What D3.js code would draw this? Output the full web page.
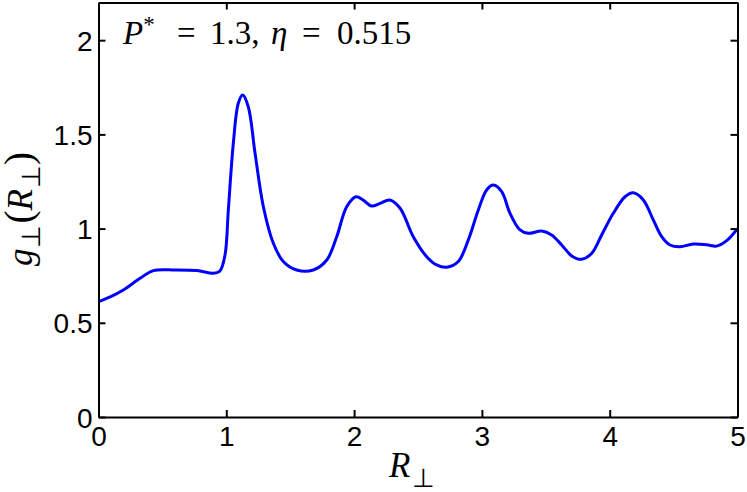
<!DOCTYPE html>
<head>
  <meta charset="utf-8">
  <script src="https://d3js.org/d3.v7.min.js"></script>
  <style>
    body { margin:0; background:#fff; }
    .tick text { font-family: "Liberation Sans", Arial, sans-serif; }
  </style>
</head>
<body>
<script>
// curve: R_perp and g_perp(R_perp)
var rVals = [0, 0.10, 0.194, 0.325, 0.43, 0.6, 0.77, 0.90, 0.95, 0.99, 1.016, 1.055, 1.094, 1.128, 1.172, 1.225, 1.29, 1.368, 1.446, 1.55, 1.68, 1.786, 1.864, 1.942, 2.015, 2.07, 2.137, 2.203, 2.28, 2.36, 2.463, 2.568, 2.646, 2.725, 2.815, 2.894, 2.972, 3.037, 3.09, 3.155, 3.22, 3.298, 3.363, 3.468, 3.546, 3.624, 3.703, 3.78, 3.86, 3.937, 4.028, 4.12, 4.185, 4.263, 4.341, 4.407, 4.472, 4.55, 4.654, 4.759, 4.837, 4.915, 5.0];
var gVals = [0.612, 0.640, 0.674, 0.736, 0.777, 0.780, 0.777, 0.763, 0.775, 0.860, 1.099, 1.453, 1.665, 1.709, 1.647, 1.40, 1.116, 0.922, 0.825, 0.780, 0.780, 0.833, 0.957, 1.116, 1.169, 1.152, 1.120, 1.134, 1.152, 1.108, 0.957, 0.851, 0.807, 0.795, 0.825, 0.94, 1.099, 1.205, 1.231, 1.196, 1.081, 0.993, 0.975, 0.987, 0.966, 0.913, 0.855, 0.837, 0.869, 0.966, 1.081, 1.169, 1.19, 1.152, 1.046, 0.957, 0.913, 0.904, 0.918, 0.914, 0.907, 0.936, 1.0];
var xTicks = [0, 1, 2, 3, 4, 5];
var yTicks = [0, 0.5, 1, 1.5, 2];

var width = 747, height = 492;
// plot box (don't call it "top", window.top is read only)
var pL = 98.5, pR = 737.5, pT = 2.5, pB = 417;

var svg = d3.select("body").append("svg")
  .attr("width", width)
  .attr("height", height);

var x = d3.scaleLinear().domain([0, 5]).range([pL, pR]);
var y = d3.scaleLinear().domain([0, 2.2]).range([pB, pT]);

var pts = rVals.map(function(r, i) { return {r: r, g: gVals[i]}; });

// the curve
var line = d3.line()
  .x(function(d) { return x(d.r); })
  .y(function(d) { return y(d.g); })
  .curve(d3.curveCatmullRom.alpha(0.5));

svg.append("defs").append("clipPath").attr("id", "clip")
  .append("rect").attr("x", pL).attr("y", pT)
  .attr("width", pR - pL).attr("height", pB - pT);

svg.append("path")
  .datum(pts)
  .attr("clip-path", "url(#clip)")
  .attr("d", line)
  .style("fill", "none")
  .style("stroke", "#0000ff")
  .style("stroke-width", 3)
  .style("stroke-linejoin", "round");

// axes, ticks pointing inward like matlab
var xAxis = svg.append("g").attr("transform", "translate(0," + pB + ")")
  .call(d3.axisBottom(x).tickValues(xTicks).tickFormat(d3.format("d")).tickSizeInner(-7).tickSizeOuter(0));
var xTop = svg.append("g").attr("transform", "translate(0," + pT + ")")
  .call(d3.axisTop(x).tickValues(xTicks).tickFormat("").tickSizeInner(-7).tickSizeOuter(0));
var yAxis = svg.append("g").attr("transform", "translate(" + pL + ",0)")
  .call(d3.axisLeft(y).tickValues(yTicks).tickFormat(function(d) { return d; }).tickSizeInner(-7).tickSizeOuter(0));
var yRight = svg.append("g").attr("transform", "translate(" + pR + ",0)")
  .call(d3.axisRight(y).tickValues(yTicks).tickFormat("").tickSizeInner(-7).tickSizeOuter(0));

svg.selectAll(".domain").style("stroke", "#000").style("stroke-width", 2);
svg.selectAll(".tick line").style("stroke", "#000").style("stroke-width", 2);
svg.selectAll(".tick text").style("font-size", "28px").style("fill", "#000");
xAxis.selectAll(".tick text").attr("y", 9).attr("dy", "0.71em");
yAxis.selectAll(".tick text").attr("x", -6).attr("dy", "0.36em");

// annotation, pieces placed like the latex spacing
var serif = '"Liberation Serif", "Times New Roman", serif';
var ann = svg.append("text")
  .attr("y", 44)
  .style("font-family", serif).style("font-size", "33px");
ann.append("tspan").attr("x", 123).style("font-style", "italic").text("P");
ann.append("tspan").attr("dy", -12).style("font-size", "23px").text("*");
ann.append("tspan").attr("x", 177).attr("dy", 12).text("=");
ann.append("tspan").attr("x", 210).text("1.3,");
ann.append("tspan").attr("x", 271).style("font-style", "italic").text("η");
ann.append("tspan").attr("x", 302).text("=");
ann.append("tspan").attr("x", 337).text("0.515");

// x label
var xl = svg.append("text")
  .attr("x", 389).attr("y", 477)
  .style("font-family", serif).style("font-size", "35px");
xl.append("tspan").style("font-style", "italic").text("R");
xl.append("tspan").attr("dx", 2).attr("dy", 10).style("font-size", "26px").text("⊥");

// y label
var yl = svg.append("text")
  .attr("transform", "translate(32,209) rotate(-90)")
  .attr("text-anchor", "middle")
  .style("font-family", serif).style("font-size", "35px");
yl.append("tspan").style("font-style", "italic").text("g");
yl.append("tspan").attr("dy", 8).style("font-size", "26px").text("⊥");
yl.append("tspan").attr("dx", 2).attr("dy", -8).style("font-size", "39px").text("(");
yl.append("tspan").style("font-style", "italic").text("R");
yl.append("tspan").attr("dx", 1).attr("dy", 8).style("font-size", "26px").text("⊥");
yl.append("tspan").attr("dy", -8).style("font-size", "39px").text(")");
</script>
</body>
</html>
